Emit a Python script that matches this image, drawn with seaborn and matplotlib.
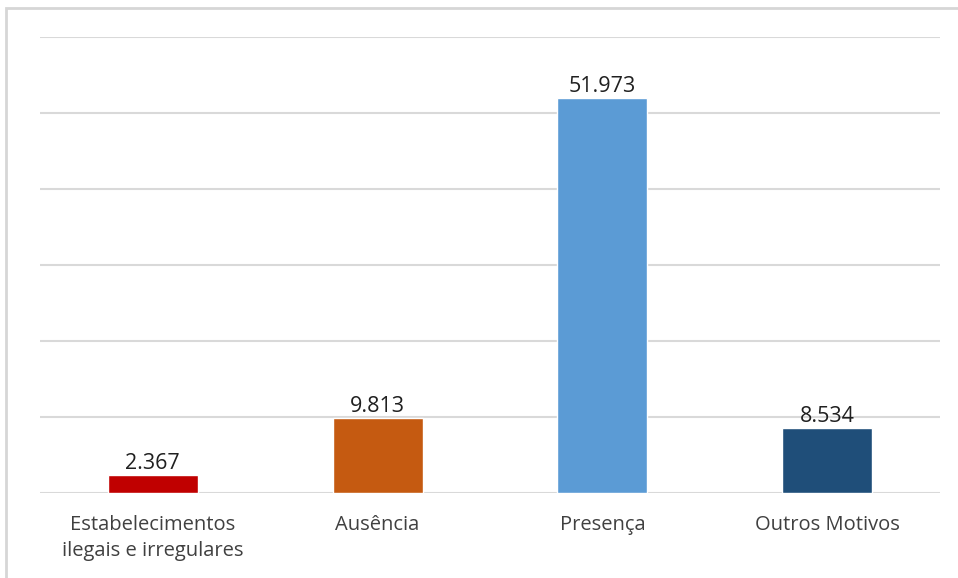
import matplotlib
matplotlib.use("Agg")
import matplotlib.pyplot as plt
from matplotlib.patches import Rectangle
import seaborn as sns
import pandas as pd

# dados do gráfico
categorias = ["Estabelecimentos\nilegais e irregulares", "Ausência", "Presença", "Outros Motivos"]
valores = [2367, 9813, 51973, 8534]
cores = ["#C00000", "#C55A11", "#5B9BD5", "#1F4E79"]

sns.set_theme(style="white")
plt.rcParams["font.family"] = ["Open Sans", "DejaVu Sans"]

df = pd.DataFrame({"categoria": categorias, "valor": valores})

fig = plt.figure(figsize=(9.58, 5.78), dpi=100)
ax = fig.add_axes([0.042, 0.147, 0.939, 0.789])

sns.barplot(data=df, x="categoria", y="valor", hue="categoria", palette=cores,
            width=0.4, legend=False, ax=ax, saturation=1)

ax.set_ylim(0, 60000)
ax.set_xlim(-0.5, 3.5)
ax.set_yticks(range(0, 60001, 10000))
ax.yaxis.grid(True, color="#D9D9D9", linewidth=1.5)
ax.set_axisbelow(True)
ax.tick_params(axis="y", left=False, labelleft=False)
ax.tick_params(axis="x", bottom=False, labelsize=14.5, colors="#404040", pad=10)
for lbl in ax.get_xticklabels():
    lbl.set_linespacing(1.35)
ax.set_xlabel("")
ax.set_ylabel("")
for s in ax.spines.values():
    s.set_visible(False)

for i, v in enumerate(valores):
    ax.text(i, v + 150, f"{v:,}".replace(",", "."), ha="center", va="bottom",
            fontsize=15.5, color="#202020")

# moldura do gráfico
fig.patches.append(Rectangle((0.006, -0.01), 1.0, 0.997, transform=fig.transFigure,
                             fill=False, edgecolor="#D6D6D6", linewidth=2))

fig.savefig("out.png", dpi=100)
